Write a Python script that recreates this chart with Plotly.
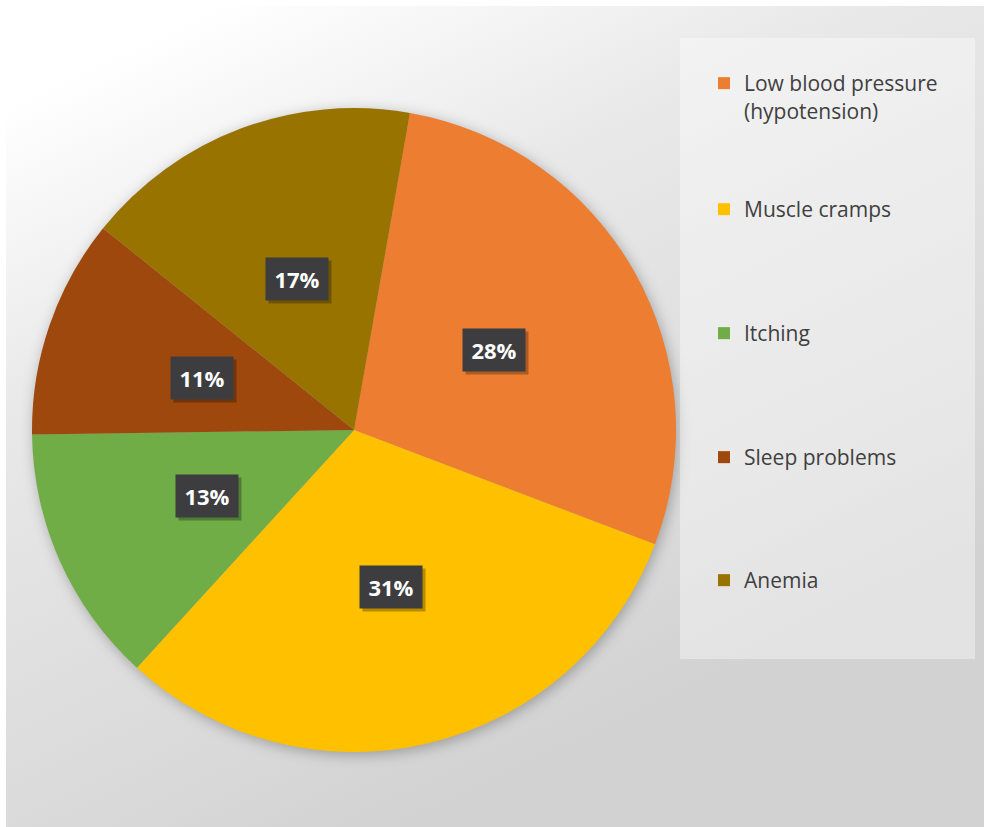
import base64
import math
import plotly.graph_objects as go

# ---- data -------------------------------------------------------------
labels = ["Low blood pressure<br>(hypotension)", "Muscle cramps", "Itching",
          "Sleep problems", "Anemia"]
values = [28, 31, 13, 11, 17]
colors = ["#ED7D31", "#FFC000", "#70AD47", "#9E480E", "#997300"]

# ---- layout geometry (pixels) -----------------------------------------
W, H = 984, 827
PIE_CX, PIE_CY, PIE_R = 354, 430, 322
START_ANGLE = 10            # first slice starts 10 deg clockwise from 12 o'clock
LABEL_FRAC = 0.5            # label distance from centre, as fraction of radius
LABEL_W, LABEL_H = 48, 28   # inner size of the percentage boxes
LEGEND_LEFT = 704
LEGEND_ROW_Y = [83, 209, 333, 457, 580]
LEGEND_BOX = (680, 38, 975, 659)   # x0, y0, x1, y1
BG_X0, BG_Y0 = 6, 6

FONT = "Open Sans"


def px_to_paper(x, y):
    return x / W, 1 - y / H


# ---- background: diagonal grey gradient with a soft shadow under the pie
bw, bh = W - BG_X0, H - BG_Y0
scx, scy = PIE_CX - BG_X0 + 2, PIE_CY - BG_Y0 + 3
svg = f'''<svg xmlns="http://www.w3.org/2000/svg" width="{bw}" height="{bh}" viewBox="0 0 {bw} {bh}">
<defs>
<linearGradient id="g" gradientUnits="userSpaceOnUse" x1="0" y1="0" x2="{int(bw*0.4)}" y2="{bh}">
<stop offset="0" stop-color="#ffffff"/>
<stop offset="0.1" stop-color="#ffffff"/>
<stop offset="0.4" stop-color="#e9e9e9"/>
<stop offset="0.85" stop-color="#d9d9d9"/>
<stop offset="1" stop-color="#d2d2d2"/>
</linearGradient>
<filter id="s" x="-20%" y="-20%" width="140%" height="140%"><feGaussianBlur stdDeviation="7"/></filter>
</defs>
<rect x="0" y="0" width="{bw}" height="{bh}" fill="url(#g)"/>
<circle cx="{scx}" cy="{scy}" r="{PIE_R}" fill="#000000" fill-opacity="0.28" filter="url(#s)"/>
</svg>'''
bg_uri = "data:image/svg+xml;base64," + base64.b64encode(svg.encode()).decode()

fig = go.Figure()

# ---- pie --------------------------------------------------------------
dx0, dy1 = px_to_paper(PIE_CX - PIE_R, PIE_CY - PIE_R)
dx1, dy0 = px_to_paper(PIE_CX + PIE_R, PIE_CY + PIE_R)
fig.add_trace(go.Pie(
    labels=labels, values=values, sort=False, direction="clockwise",
    rotation=START_ANGLE, marker=dict(colors=colors, line=dict(width=0)),
    textinfo="none", hoverinfo="label+percent", showlegend=False,
    domain=dict(x=[dx0, dx1], y=[dy0, dy1]),
))

# ---- legend entries (one legend per row for Excel-like spacing) --------
layout_legends = {}
for i, (lab, col, ry) in enumerate(zip(labels, colors, LEGEND_ROW_Y)):
    key = "legend" if i == 0 else f"legend{i + 1}"
    fig.add_trace(go.Scatter(
        x=[None], y=[None], mode="markers", name=lab, legend=key,
        marker=dict(symbol="square", size=12, color=col),
        hoverinfo="skip",
    ))
    lx, ly = px_to_paper(LEGEND_LEFT, ry - 20)
    layout_legends[key] = dict(
        x=lx, y=ly, xanchor="left", yanchor="top",
        bgcolor="rgba(0,0,0,0)", borderwidth=0, valign="top",
        itemsizing="constant",
        font=dict(family=FONT, size=21, color="#3f3f3f"),
    )

# ---- percentage labels in dark boxes ----------------------------------
total = sum(values)
annotations = []
acc = 0
for v in values:
    mid = math.radians(START_ANGLE + (acc + v / 2) / total * 360)
    acc += v
    lx = PIE_CX + LABEL_FRAC * PIE_R * math.sin(mid)
    ly = PIE_CY - LABEL_FRAC * PIE_R * math.cos(mid)
    ax, ay = px_to_paper(lx, ly)
    txt = f"{round(v / total * 100)}%"
    common = dict(x=ax, y=ay, xref="paper", yref="paper", showarrow=False,
                  xanchor="center", yanchor="middle", width=LABEL_W,
                  height=LABEL_H, borderpad=7)
    # drop shadow behind the box
    annotations.append(dict(
        common, text="&nbsp;", xshift=3, yshift=-3,
        bgcolor="rgba(0,0,0,0.28)",
        font=dict(family=FONT, size=22),
    ))
    annotations.append(dict(
        common, text=txt, bgcolor="#3d3d3f",
        font=dict(family=FONT, size=22, color="#ffffff", weight="bold"),
    ))

bx0, by0 = px_to_paper(LEGEND_BOX[0], LEGEND_BOX[1])
bx1, by1 = px_to_paper(LEGEND_BOX[2], LEGEND_BOX[3])
gx0, gy0 = px_to_paper(BG_X0, BG_Y0)

fig.update_layout(
    width=W, height=H, margin=dict(l=0, r=0, t=0, b=0),
    paper_bgcolor="#ffffff", plot_bgcolor="rgba(0,0,0,0)",
    template="none",
    xaxis=dict(visible=False), yaxis=dict(visible=False),
    images=[dict(
        source=bg_uri, xref="paper", yref="paper", x=gx0, y=gy0,
        sizex=1 - gx0, sizey=gy0, xanchor="left", yanchor="top",
        sizing="stretch", layer="below",
    )],
    shapes=[dict(
        type="rect", xref="paper", yref="paper",
        x0=bx0, y0=by1, x1=bx1, y1=by0,
        fillcolor="rgba(255,255,255,0.38)", line=dict(width=0), layer="below",
    )],
    annotations=annotations,
    **layout_legends,
)

fig.write_html("out.html")
